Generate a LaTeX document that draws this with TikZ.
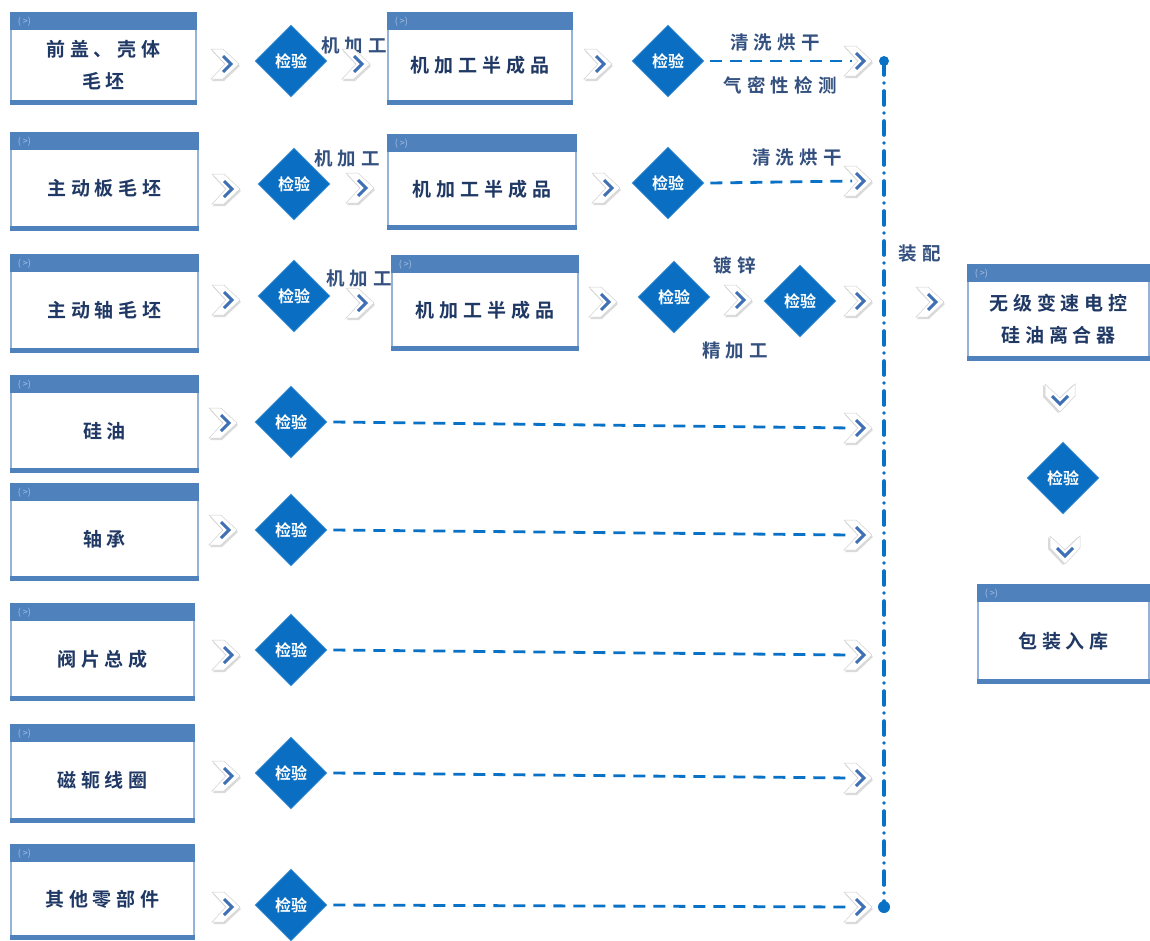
\documentclass[tikz,border=0pt]{standalone}
\usepackage{fontspec}
\setmainfont{Noto Sans CJK SC}[BoldFont={Noto Sans CJK SC Bold}]
\usetikzlibrary{shapes.geometric}
\definecolor{hdr}{HTML}{4F81BD}
\definecolor{pborder}{HTML}{95B3D7}
\definecolor{diafill}{HTML}{0A6FC2}
\definecolor{ink}{HTML}{1F3864}
\definecolor{lbl}{HTML}{34507F}
\definecolor{flow}{HTML}{0A72C6}
\definecolor{chevblue}{HTML}{3F6FB5}
\definecolor{iconc}{HTML}{A9C2E2}
\tikzset{
  panel/.style={draw=pborder, line width=1.2pt, fill=white, inner sep=0pt},
  ptxt/.style={text=ink, font=\fontsize{19}{32}\selectfont\bfseries\addfontfeature{LetterSpace=26}, align=center, inner sep=0pt},
  lbltxt/.style={text=lbl, font=\fontsize{18.5}{20}\selectfont\bfseries\addfontfeature{LetterSpace=28}, inner sep=0pt},
  icon/.style={text=iconc, font=\fontsize{9}{9}\selectfont, inner sep=0pt},
  chk/.style={diamond, aspect=1, fill=diafill, draw=diafill!70!white, line width=0.6pt, minimum width=72pt, minimum height=72pt, inner sep=0pt, text=white, font=\fontsize{16}{16}\selectfont\bfseries},
  dashline/.style={flow, line width=2.8pt, dash pattern=on 12pt off 8pt},
  chev/.pic={
    \fill[black!14] (-15,-13) -- (-3,-13) -- (13,2) -- (-3,17) -- (-15,17) -- (-1,2) -- cycle;
    \fill[white] (-16,-15) -- (-4,-15) -- (12,0) -- (-4,15) -- (-16,15) -- (-2,0) -- cycle;
    \draw[black!18, line width=0.5pt] (-16,-15) -- (-4,-15) -- (12,0) -- (-4,15) -- (-16,15) -- (-2,0) -- cycle;
    \draw[chevblue, line width=3pt, line join=miter] (-4,-8) -- (4,0) -- (-4,8);
  }
}
% name, x1, y1, x2, y2, text
\newcommand\pnl[6]{%
  \node[panel, minimum width={#4pt-#2pt}, minimum height={#5pt-#3pt}] (#1) at ({(#2+#4)/2},{(#3+#5)/2}) {};
  \fill[hdr] (#1.north west) rectangle ([yshift=-18pt]#1.north east);
  \fill[hdr] ([yshift=4.5pt]#1.south west) rectangle (#1.south east);
  \node[icon] at ([xshift=14pt,yshift=-9pt]#1.north west) {( >)};
  \node[ptxt] (#1t) at ([yshift=-7pt]#1.center) {#6};
}
\begin{document}
\begin{tikzpicture}[x=1pt,y=-1pt]
\useasboundingbox (0,0) rectangle (1150,940);

% chevron coordinates
\foreach \n/\x/\y in {a1/227/64, b1/358/64, c1/600/64, e1/860/61,
  a2/228/189, b2/362/188, c2/608/188, e2/860/181,
  a3/228/300, b3/362/303, c3/605/302, f3/740/300, e3/860/301,
  a4/225/423, e4/860/428, a5/225/530, e5/860/535,
  a6/228/655, e6/860/655, a7/228/776, e7/860/778,
  a8/228/907, e8/860/907, g1/932/302}
  {\coordinate (ch\n) at (\x,\y);}
\coordinate (gd1) at (1060,400);
\coordinate (gd2) at (1065,552);
\coordinate (jt) at (884,61);
\coordinate (jb) at (884,907);

% labels (behind panels)
\node[lbltxt] (l1) at (354,45) {机加工};
\node[lbltxt] (l2) at (347,158) {机加工};
\node[lbltxt] (l3) at (359,278) {机加工};
\node[lbltxt] (w1) at (775,42) {清洗烘干};
\node[lbltxt] (w2) at (780,85) {气密性检测};
\node[lbltxt] (w3) at (797,157) {清洗烘干};
\node[lbltxt] (z1) at (735,265) {镀锌};
\node[lbltxt] (z2) at (735,350) {精加工};
\node[lbltxt] (asm) at (920,254) {装配};

% panels
\pnl{L1}{11}{13}{196}{104}{前盖、壳体\\毛坯}
\pnl{L2}{11}{133}{198}{230}{主动板毛坯}
\pnl{L3}{11}{255}{198}{352}{主动轴毛坯}
\pnl{L4}{11}{376}{198}{472}{硅油}
\pnl{L5}{11}{484}{198}{580}{轴承}
\pnl{L6}{11}{604}{194}{700}{阀片总成}
\pnl{L7}{11}{725}{194}{822}{磁轭线圈}
\pnl{L8}{11}{845}{194}{939}{其他零部件}
\pnl{M1}{388}{13}{572}{104}{机加工半成品}
\pnl{M2}{388}{135}{576}{229}{机加工半成品}
\pnl{M3}{392}{256}{578}{350}{机加工半成品}
\pnl{R1}{968}{265}{1149}{360}{无级变速电控\\硅油离合器}
\pnl{R2}{978}{585}{1149}{683}{包装入库}

% check diamonds
\node[chk] (d1) at (291,61) {检验};
\node[chk] (d1b) at (668,61) {检验};
\node[chk] (d2) at (294,184) {检验};
\node[chk] (d2b) at (668,183) {检验};
\node[chk] (d3) at (294,296) {检验};
\node[chk] (d3b) at (674,297) {检验};
\node[chk] (d3c) at (800,301) {检验};
\node[chk] (d4) at (291,422) {检验};
\node[chk] (d5) at (291,530) {检验};
\node[chk] (d6) at (291,650) {检验};
\node[chk] (d7) at (291,773) {检验};
\node[chk] (d8) at (291,905) {检验};
\node[chk] (dr) at (1063,478) {检验};

% dashed flows
\draw[dashline] ([xshift=6pt]d1b.east) -- ([xshift=-8pt]che1);
\draw[dashline] ([xshift=6pt]d2b.east) -- ([xshift=-8pt]che2);
\foreach \k in {4,5,6,7,8}
  \draw[dashline] ([xshift=6pt]d\k.east) -- ([xshift=-8pt]che\k);

% chevrons
\foreach \n in {a1,b1,c1,e1,a2,b2,c2,e2,a3,b3,c3,f3,e3,a4,e4,a5,e5,a6,e6,a7,e7,a8,e8,g1}
  \pic at (ch\n) {chev};
\pic[rotate=-90] at (gd1) {chev};
\pic[rotate=-90] at (gd2) {chev};

% assembly line
\draw[flow, line width=3.6pt, line cap=round, dash pattern=on 14pt off 8pt on 0pt off 8pt] (jt) -- (jb);
\fill[flow] (jt) circle (5pt);
\fill[flow] (jb) circle (6pt);
\end{tikzpicture}
\end{document}
